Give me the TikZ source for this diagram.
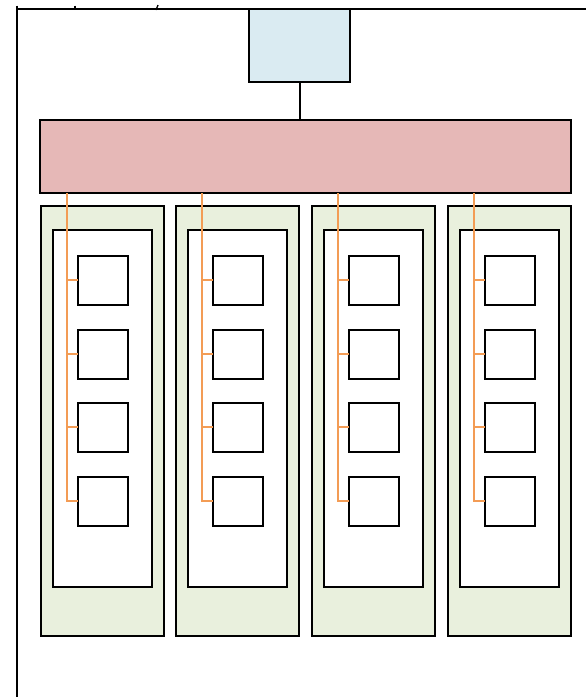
\documentclass[tikz,border=0pt]{standalone}
\begin{document}
\definecolor{hostblue}{HTML}{DAEBF2}
\definecolor{busred}{HTML}{E6B8B7}
\definecolor{colgreen}{HTML}{E9F0DD}
\definecolor{wireorange}{HTML}{F39C55}
\tikzset{
  box/.style={draw=black, line width=2pt, inner sep=0pt, outer sep=0pt},
  hostbox/.style={box, fill=hostblue, minimum width=101pt, minimum height=73pt},
  busbox/.style={box, fill=busred, minimum width=531pt, minimum height=73pt},
  colbox/.style={box, fill=colgreen, minimum width=123pt, minimum height=430pt},
  innerbox/.style={box, fill=white, minimum width=99pt, minimum height=357pt},
  unitbox/.style={box, fill=white, minimum width=50pt, minimum height=49pt},
  wire/.style={draw=wireorange, line width=2pt},
  link/.style={draw=black, line width=2pt},
  frame/.style={draw=black, line width=2pt},
}
\begin{tikzpicture}[x=1pt, y=-1pt]
\useasboundingbox (0,0) rectangle (586,697);
% frame lines
\coordinate (ftl) at (17,9);
\coordinate (ftr) at (586,9);
\coordinate (fbl) at (17,697);
\draw[frame] (ftl) -- (ftr);
\draw[frame] (ftl) -- (fbl);
\coordinate (tk1a) at (75,5.5); \coordinate (tk1b) at (75,9);
\coordinate (tk2a) at (158,5); \coordinate (tk2b) at (156,10);
\coordinate (tk0a) at (17,5.5);
\draw[frame, line width=1.3pt] (tk1a) -- (tk1b);
\draw[frame, line width=1.3pt] (tk2a) -- (tk2b);
\draw[frame, line width=1.3pt] (tk0a) -- (ftl);
% host and bus
\node[hostbox] (host) at (299.5,45.5) {};
\node[busbox] (bus) at (305.5,156.5) {};
\draw[link] (host.south) -- (host.south |- bus.north);
% columns
\foreach \c/\L in {1/40.5, 2/176, 3/312, 4/447.5} {
  \node[colbox] (col\c) at (\L+61.5,421) {};
  \node[innerbox] (in\c) at (\L+12+49.5,408.5) {};
  \foreach \r/\Y in {1/280, 2/354, 3/427, 4/501} {
    \node[unitbox] (u\c\r) at (\L+37+25,\Y) {};
  }
  \coordinate (tap\c) at (\L+26,193);
  \draw[wire] (tap\c) |- (u\c4.west);
  \foreach \r in {1,2,3} {
    \draw[wire] (u\c\r.west) -- (u\c\r.west -| tap\c);
  }
}
\end{tikzpicture}
\end{document}
